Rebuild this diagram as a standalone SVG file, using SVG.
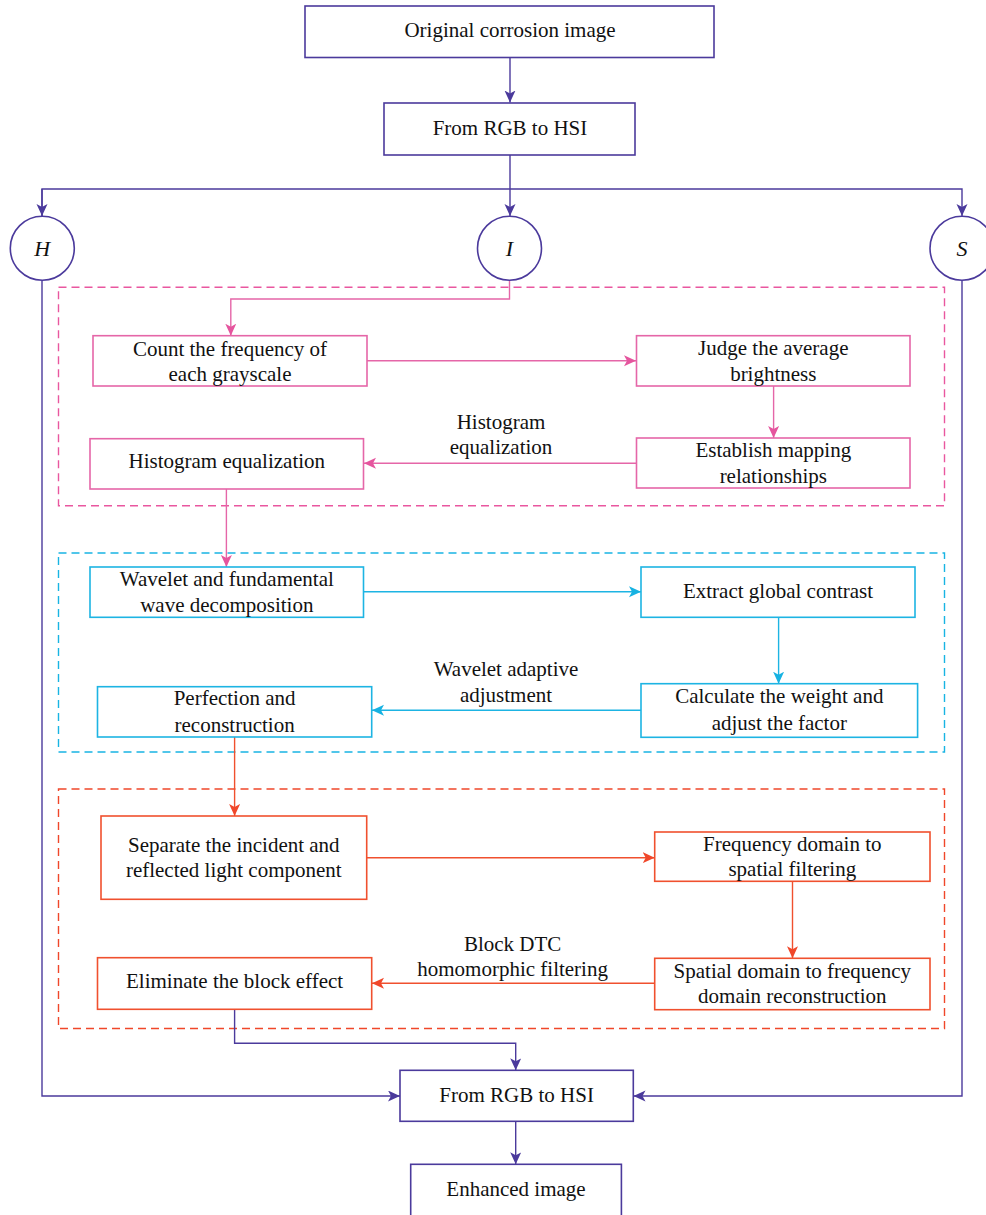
<svg xmlns="http://www.w3.org/2000/svg" width="986" height="1215" viewBox="0 0 986 1215" font-family="'Liberation Serif', serif">
<style>
  text { font-family: "Liberation Serif", serif; font-size: 21px; fill: #111; text-anchor: middle; }
  .it { font-style: italic; font-size: 22px; }
  .box { fill: #fff; stroke-width: 1.6; }
  .pu { stroke: #4b3a9c; }
  .pk { stroke: #e566a8; }
  .cy { stroke: #1db4e3; }
  .rd { stroke: #f0502e; }
  .dash { fill: none; stroke-width: 1.4; stroke-dasharray: 8 5; }
  .ln { fill: none; stroke-width: 1.4; }
</style>
<defs>
  <marker id="aPu" markerUnits="userSpaceOnUse" markerWidth="13" markerHeight="12" refX="12" refY="5.5" orient="auto"><path d="M0,0 L12,5.5 L0,11 L3,5.5 z" fill="#4b3a9c"/></marker>
  <marker id="aPk" markerUnits="userSpaceOnUse" markerWidth="13" markerHeight="12" refX="12" refY="5.5" orient="auto"><path d="M0,0 L12,5.5 L0,11 L3,5.5 z" fill="#e5559e"/></marker>
  <marker id="aCy" markerUnits="userSpaceOnUse" markerWidth="13" markerHeight="12" refX="12" refY="5.5" orient="auto"><path d="M0,0 L12,5.5 L0,11 L3,5.5 z" fill="#16b2e2"/></marker>
  <marker id="aRd" markerUnits="userSpaceOnUse" markerWidth="13" markerHeight="12" refX="12" refY="5.5" orient="auto"><path d="M0,0 L12,5.5 L0,11 L3,5.5 z" fill="#f0472a"/></marker>
</defs>

<g id="groups">
  <rect class="dash" stroke="#e9579f" x="58.5" y="287.3" width="886" height="218.5"/>
  <rect class="dash" stroke="#18b4e3" x="58.5" y="553" width="886" height="199"/>
  <rect class="dash" stroke="#f0472a" x="58.5" y="789" width="886" height="239.5"/>
</g>

<g id="connectors">
  <path class="ln pu" d="M510,57.5 V102.5" marker-end="url(#aPu)"/>
  <path class="ln pu" d="M510,155 V216" marker-end="url(#aPu)"/>
  <path class="ln pu" d="M42,216 V189 H962 V216" marker-end="url(#aPu)"/>
  <path class="ln pu" d="M42,189 V216" marker-end="url(#aPu)"/>
  <path class="ln pk" d="M509.5,280.5 V299 H230.8 V335.7" marker-end="url(#aPk)"/>
  <path class="ln pk" d="M367,360.7 H636" marker-end="url(#aPk)"/>
  <path class="ln pk" d="M773.6,386 V438" marker-end="url(#aPk)"/>
  <path class="ln pk" d="M636.5,463.3 H364" marker-end="url(#aPk)"/>
  <path class="ln pk" d="M226.4,489 V567" marker-end="url(#aPk)"/>
  <path class="ln cy" d="M363.5,591.7 H641" marker-end="url(#aCy)"/>
  <path class="ln cy" d="M778.6,617.3 V683.7" marker-end="url(#aCy)"/>
  <path class="ln cy" d="M641,710.3 H372" marker-end="url(#aCy)"/>
  <path class="ln rd" d="M234.6,737 V816" marker-end="url(#aRd)"/>
  <path class="ln rd" d="M366.7,857.7 H654.7" marker-end="url(#aRd)"/>
  <path class="ln rd" d="M792.5,881.3 V958.3" marker-end="url(#aRd)"/>
  <path class="ln rd" d="M654.7,983.3 H372" marker-end="url(#aRd)"/>
  <path class="ln pu" d="M234.6,1009.3 V1043.3 H515.7 V1070.3" marker-end="url(#aPu)"/>
  <path class="ln pu" d="M42,280.5 V1096 H400" marker-end="url(#aPu)"/>
  <path class="ln pu" d="M962,280.5 V1096 H633.5" marker-end="url(#aPu)"/>
  <path class="ln pu" d="M515.7,1121.3 V1164.3" marker-end="url(#aPu)"/>
</g>

<g id="n-original">
  <rect class="box pu" x="305" y="6" width="409" height="51.5"/>
  <text x="510" y="36.5">Original corrosion image</text>
</g>
<g id="n-rgb2hsi">
  <rect class="box pu" x="384" y="103" width="251" height="52"/>
  <text x="510" y="135">From RGB to HSI</text>
</g>
<g id="n-H">
  <circle class="box pu" cx="42.3" cy="248.3" r="32"/>
  <text class="it" x="42.3" y="256">H</text>
</g>
<g id="n-I">
  <circle class="box pu" cx="509.5" cy="248.3" r="32"/>
  <text class="it" x="509.5" y="256">I</text>
</g>
<g id="n-S">
  <circle class="box pu" cx="962" cy="248.3" r="32"/>
  <text class="it" x="962" y="256">S</text>
</g>

<g id="n-count">
  <rect class="box pk" x="93" y="335.7" width="274" height="50.3"/>
  <text x="230" y="355.5">Count the frequency of</text>
  <text x="230" y="380.8">each grayscale</text>
</g>
<g id="n-judge">
  <rect class="box pk" x="636.5" y="335.7" width="273.5" height="50.3"/>
  <text x="773.3" y="355">Judge the average</text>
  <text x="773.3" y="380.8">brightness</text>
</g>
<g id="n-establish">
  <rect class="box pk" x="636.5" y="438" width="273.5" height="50"/>
  <text x="773.3" y="456.5">Establish mapping</text>
  <text x="773.3" y="482.5">relationships</text>
</g>
<g id="n-histeq">
  <rect class="box pk" x="90" y="438.7" width="273.5" height="50.3"/>
  <text x="226.8" y="468.2">Histogram equalization</text>
</g>
<g id="l-hist">
  <text x="501" y="428.5">Histogram</text>
  <text x="501" y="454.2">equalization</text>
</g>

<g id="n-wavelet">
  <rect class="box cy" x="90" y="567" width="273.5" height="50.3"/>
  <text x="226.8" y="585.5">Wavelet and fundamental</text>
  <text x="226.8" y="611.5">wave decomposition</text>
</g>
<g id="n-extract">
  <rect class="box cy" x="641" y="567" width="274" height="50.3"/>
  <text x="778" y="598.2">Extract global contrast</text>
</g>
<g id="n-calc">
  <rect class="box cy" x="641" y="683.7" width="276.6" height="53.6"/>
  <text x="779.3" y="703.2">Calculate the weight and</text>
  <text x="779.3" y="729.8">adjust the factor</text>
</g>
<g id="n-perf">
  <rect class="box cy" x="97.5" y="686.7" width="274.2" height="50.3"/>
  <text x="234.6" y="704.8">Perfection and</text>
  <text x="234.6" y="731.5">reconstruction</text>
</g>
<g id="l-wavelet">
  <text x="506" y="675.5">Wavelet adaptive</text>
  <text x="506" y="701.5">adjustment</text>
</g>

<g id="n-separate">
  <rect class="box rd" x="101" y="816" width="265.7" height="83.3"/>
  <text x="233.8" y="851.5">Separate the incident and</text>
  <text x="233.8" y="877.2">reflected light component</text>
</g>
<g id="n-freq">
  <rect class="box rd" x="654.7" y="832" width="275.3" height="49.3"/>
  <text x="792.3" y="850.5">Frequency domain to</text>
  <text x="792.3" y="875.8">spatial filtering</text>
</g>
<g id="n-spatial">
  <rect class="box rd" x="654.7" y="958.3" width="275.3" height="51.4"/>
  <text x="792.3" y="978.2">Spatial domain to frequency</text>
  <text x="792.3" y="1003.2">domain reconstruction</text>
</g>
<g id="n-elim">
  <rect class="box rd" x="97.5" y="957.7" width="274.2" height="51.6"/>
  <text x="234.6" y="988.2">Eliminate the block effect</text>
</g>
<g id="l-block">
  <text x="512.6" y="950.5">Block DTC</text>
  <text x="512.6" y="975.8">homomorphic filtering</text>
</g>

<g id="n-rgb2hsi-2">
  <rect class="box pu" x="400" y="1070.3" width="233.3" height="51"/>
  <text x="516.6" y="1101.5">From RGB to HSI</text>
</g>
<g id="n-enhanced">
  <rect class="box pu" x="410.7" y="1164.3" width="210.7" height="60"/>
  <text x="516" y="1195.5">Enhanced image</text>
</g>
</svg>
